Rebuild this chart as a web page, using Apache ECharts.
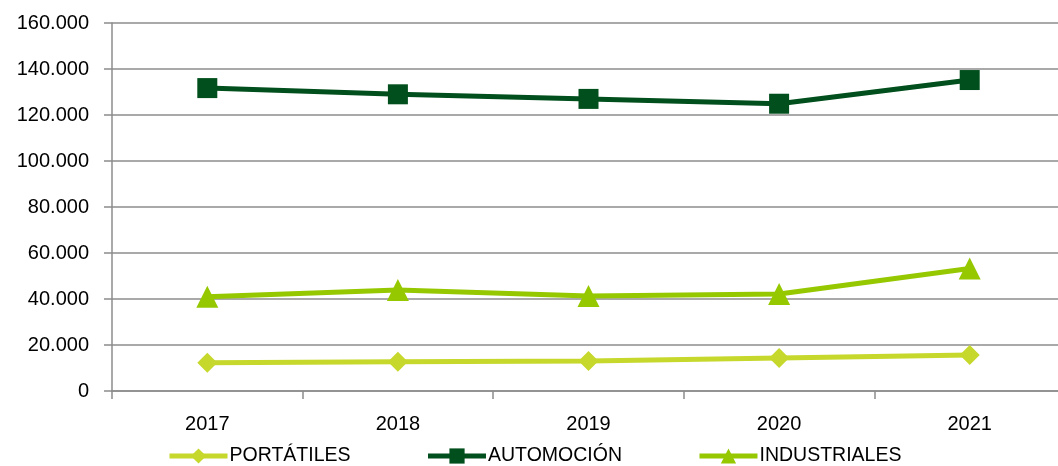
<!DOCTYPE html>
<html>
<head>
<meta charset="utf-8">
<script src="https://cdn.jsdelivr.net/npm/echarts@6/dist/echarts.min.js"></script>
<style>
  html, body { margin: 0; padding: 0; background: #fff; }
  #chart { width: 1058px; height: 466px; }
</style>
</head>
<body>
<div id="chart"></div>
<script>
const years = ['2017', '2018', '2019', '2020', '2021']
const portatiles = [12300, 12750, 13000, 14300, 15650]
const automocion = [131700, 129000, 127000, 124900, 135200]
const industriales = [41000, 43900, 41300, 42200, 53300]

const fontFamily = 'Liberation Sans, Arial, sans-serif'
const gridColor = '#8c8c8c'

const fmt = v => String(v).replace(/\B(?=(\d{3})+(?!\d))/g, '.')

const chart = echarts.init(document.getElementById('chart'))

const makeSeries = (name, data, color, symbol, size) => ({
  name: name,
  type: 'line',
  data: data,
  symbol: symbol,
  symbolSize: size,
  lineStyle: { color: color, width: 5 },
  itemStyle: { color: color },
  animation: false
})

const option = {
  grid: {
    left: 112,
    top: 23,
    width: 953,
    bottom: 75,
    containLabel: false,
    outerBoundsMode: 'none'
  },
  legend: {
    left: 162,
    top: 441,
    itemWidth: 58,
    itemHeight: 19,
    itemGap: 75,
    lineStyle: { width: 5 },
    textStyle: { fontFamily: fontFamily, fontSize: 19.5, color: '#000', padding: [0, 0, 0, -3] },
    data: ['PORTÁTILES', 'AUTOMOCIÓN', 'INDUSTRIALES']
  },
  xAxis: {
    type: 'category',
    data: years,
    boundaryGap: true,
    axisLine: { lineStyle: { color: gridColor, width: 1.5 } },
    axisTick: { show: true, length: 8, lineStyle: { color: gridColor, width: 1.5 } },
    axisLabel: { fontFamily: fontFamily, fontSize: 20, color: '#000', margin: 23 }
  },
  yAxis: {
    type: 'value',
    min: 0,
    max: 160000,
    interval: 20000,
    axisLine: { show: true, lineStyle: { color: gridColor, width: 1.5 } },
    axisTick: { show: true, length: 8, lineStyle: { color: gridColor, width: 1.5 } },
    axisLabel: {
      fontFamily: fontFamily,
      fontSize: 20,
      color: '#000',
      margin: 23,
      formatter: fmt
    },
    splitLine: { lineStyle: { color: gridColor, width: 1.5 } }
  },
  series: [
    makeSeries('PORTÁTILES', portatiles, '#c6d82b', 'diamond', 20),
    makeSeries('AUTOMOCIÓN', automocion, '#004f1c', 'rect', 20),
    makeSeries('INDUSTRIALES', industriales, '#96c800', 'triangle', 22)
  ]
}
chart.setOption(option)
</script>
</body>
</html>
